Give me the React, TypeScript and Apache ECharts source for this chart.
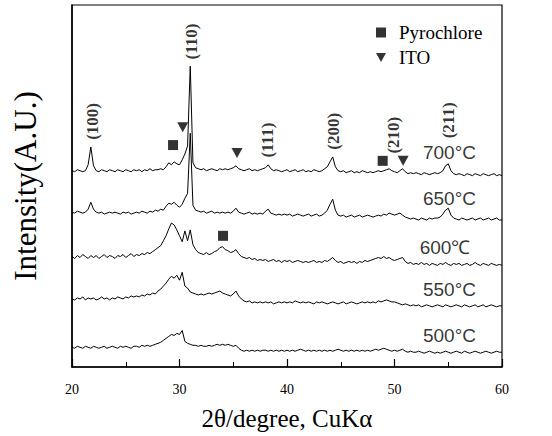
import { useEffect, useRef } from "react";
import * as echarts from "echarts";

// 2θ sampling grid (degrees)
const twoTheta = [
  20, 20.25, 20.5, 20.75, 21, 21.25, 21.5, 21.75,
  22, 22.25, 22.5, 22.75, 23, 23.25, 23.5, 23.75,
  24, 24.25, 24.5, 24.75, 25, 25.25, 25.5, 25.75,
  26, 26.25, 26.5, 26.75, 27, 27.25, 27.5, 27.75,
  28, 28.25, 28.5, 28.75, 29, 29.25, 29.5, 29.75,
  30, 30.25, 30.5, 30.75, 31, 31.25, 31.5, 31.75,
  32, 32.25, 32.5, 32.75, 33, 33.25, 33.5, 33.75,
  34, 34.25, 34.5, 34.75, 35, 35.25, 35.5, 35.75,
  36, 36.25, 36.5, 36.75, 37, 37.25, 37.5, 37.75,
  38, 38.25, 38.5, 38.75, 39, 39.25, 39.5, 39.75,
  40, 40.25, 40.5, 40.75, 41, 41.25, 41.5, 41.75,
  42, 42.25, 42.5, 42.75, 43, 43.25, 43.5, 43.75,
  44, 44.25, 44.5, 44.75, 45, 45.25, 45.5, 45.75,
  46, 46.25, 46.5, 46.75, 47, 47.25, 47.5, 47.75,
  48, 48.25, 48.5, 48.75, 49, 49.25, 49.5, 49.75,
  50, 50.25, 50.5, 50.75, 51, 51.25, 51.5, 51.75,
  52, 52.25, 52.5, 52.75, 53, 53.25, 53.5, 53.75,
  54, 54.25, 54.5, 54.75, 55, 55.25, 55.5, 55.75,
  56, 56.25, 56.5, 56.75, 57, 57.25, 57.5, 57.75,
  58, 58.25, 58.5, 58.75, 59, 59.25, 59.5, 59.75,
  60,
];

// Intensities (arbitrary units, stacked traces)
const i700 = [
  199, 198, 200, 199, 198, 199, 205, 223,
  204, 199, 198, 200, 199, 198, 200, 199,
  198, 200, 199, 198, 200, 199, 198, 200,
  199, 200, 198, 200, 199, 201, 199, 200,
  200, 201, 200, 203, 207, 205, 208, 206,
  205, 210, 216, 224, 305, 207, 202, 201,
  200, 201, 199, 200, 201, 200, 199, 201,
  200, 201, 200, 201, 202, 204, 201, 200,
  199, 200, 201, 199, 200, 199, 200, 201,
  202, 205, 201, 199, 200, 199, 198, 199,
  200, 198, 199, 200, 198, 199, 200, 198,
  199, 198, 200, 199, 198, 199, 201, 203,
  208, 213, 203, 199, 198, 199, 197, 198,
  199, 197, 198, 197, 199, 198, 197, 198,
  197, 198, 199, 198, 199, 200, 201, 199,
  198, 197, 199, 201, 198, 196, 197, 196,
  197, 196, 195, 197, 196, 195, 196, 197,
  196, 197, 199, 204, 206, 199, 196, 195,
  196, 195, 194, 196, 195, 194, 196, 195,
  194, 196, 195, 194, 195, 196, 194, 195,
  194,
];
const i650 = [
  157, 156, 158, 157, 156, 157, 160, 167,
  160, 157, 156, 157, 155, 156, 157, 156,
  157, 156, 155, 157, 156, 157, 155, 156,
  157, 156, 158, 157, 156, 158, 157, 159,
  158, 160, 159, 163, 166, 165, 167, 164,
  162, 165, 171, 176, 237, 164, 159, 158,
  157, 158, 156, 157, 158, 156, 157, 156,
  157, 156, 157, 156, 158, 161, 157, 156,
  155, 156, 157, 155, 156, 155, 156, 155,
  158, 160, 156, 155, 154, 155, 154, 155,
  154, 155, 153, 154, 155, 154, 153, 154,
  155, 153, 154, 155, 153, 154, 156, 159,
  165, 170, 159, 154, 153, 154, 152, 153,
  154, 152, 153, 154, 152, 153, 154, 153,
  152, 153, 154, 153, 155, 154, 156, 155,
  154, 155, 156, 154, 152, 151, 150, 151,
  150, 149, 151, 150, 149, 151, 150, 151,
  151, 152, 155, 159, 161, 154, 151, 150,
  149, 151, 150, 149, 150, 151, 149, 150,
  151, 149, 150, 151, 149, 150, 151, 149,
  149,
];
const i600 = [
  112, 110, 113, 111, 114, 112, 110, 113,
  111, 113, 110, 112, 114, 111, 113, 112,
  110, 113, 112, 114, 111, 113, 115, 112,
  114, 113, 115, 114, 116, 115, 117, 119,
  121, 123, 128, 133, 140, 146, 144, 139,
  133, 127, 138, 128, 139, 124, 119, 116,
  115, 114, 116, 114, 115, 117, 118, 121,
  122, 119, 118, 116, 117, 119, 115, 112,
  111, 110, 111, 109, 110, 108, 109, 108,
  109, 107, 108, 109, 107, 108, 106, 108,
  107, 108, 106, 107, 108, 107, 106, 107,
  106, 107, 108, 106, 107, 106, 108, 107,
  109, 111, 108, 106, 107, 105, 106, 107,
  106, 107, 105, 107, 106, 108, 107, 108,
  109, 110, 111, 110, 112, 110, 111, 109,
  108, 109, 110, 111, 107, 105, 106, 104,
  105, 104, 106, 104, 105, 103, 105, 104,
  103, 105, 104, 106, 104, 103, 105, 104,
  105, 103, 104, 105, 103, 104, 106, 104,
  103, 105, 104, 103, 105, 104, 103, 104,
  103,
];
const i550 = [
  69, 68, 70, 69, 71, 68, 70, 69,
  70, 68, 69, 71, 69, 70, 68, 70,
  69, 71, 70, 69, 71, 70, 72, 71,
  72, 71, 73, 72, 74, 73, 75, 74,
  77, 79, 82, 85, 89, 92, 90, 93,
  88, 96, 82, 80, 76, 75, 74, 73,
  74, 73, 74, 75, 74, 75, 76, 77,
  75, 74, 73, 72, 74, 77, 72, 69,
  67, 66, 67, 65, 66, 65, 66, 65,
  66, 65, 66, 64, 65, 66, 65, 66,
  65, 66, 65, 67, 66, 65, 66, 65,
  66, 65, 64, 66, 65, 66, 65, 64,
  65, 66, 65, 64, 65, 66, 64, 65,
  66, 65, 64, 65, 66, 65, 66, 65,
  66, 65, 67, 66, 67, 68, 67, 66,
  66, 65, 64, 63, 64, 63, 62, 63,
  62, 63, 61, 62, 63, 62, 61, 62,
  63, 62, 61, 63, 62, 61, 62, 63,
  62, 61, 63, 62, 61, 62, 63, 61,
  62, 63, 61, 62, 63, 62, 61, 62,
  62,
];
const i500 = [
  20, 19, 21, 20, 19, 21, 20, 19,
  21, 20, 19, 20, 21, 19, 20, 21,
  20, 19, 21, 20, 21, 20, 19, 21,
  21, 20, 22, 21, 22, 21, 22, 23,
  24, 25, 27, 29, 31, 33, 32, 34,
  33, 37, 26, 24, 23, 22, 22, 21,
  22, 21, 21, 22, 21, 22, 23, 22,
  23, 22, 23, 22, 21, 22, 19, 17,
  16, 17, 16, 17, 16, 17, 16, 17,
  17, 16, 17, 16, 17, 16, 17, 16,
  17, 16, 17, 16, 17, 18, 17, 16,
  17, 16, 17, 16, 17, 16, 17, 16,
  17, 16, 17, 18, 17, 16, 17, 16,
  17, 16, 17, 16, 17, 16, 17, 16,
  17, 18, 17, 18, 19, 18, 17, 16,
  17, 16, 17, 18, 16, 15, 16, 15,
  15, 16, 15, 14, 15, 16, 15, 14,
  15, 14, 15, 16, 15, 14, 15, 16,
  15, 14, 16, 15, 14, 15, 16, 15,
  14, 15, 16, 15, 14, 15, 16, 15,
  15,
];

const traces = [i700, i650, i600, i550, i500];
const temperatures = ["700°C", "650°C", "600℃", "550°C", "500°C"];
const tempLabelX = [52.6, 52.6, 52.3, 52.6, 52.6];
const tempLabelY = [217, 171, 121, 79, 31.5];

const millerNames = ["(100)", "(110)", "(111)", "(200)", "(210)", "(211)"];
const millerX = [21.95, 31.1, 38.2, 44.3, 49.9, 55.0];
const millerY = [249, 330, 230, 239, 235, 250];

const pyrochloreX = [29.4, 48.9, 34.05];
const pyrochloreY = [225, 209, 133];
const itoX = [30.3, 35.35, 50.8];
const itoY = [243, 217, 209];

const SERIF = "'Liberation Serif', 'Times New Roman', serif";
const SANS = "'Liberation Sans', Arial, sans-serif";
const DOWN_TRIANGLE = "path://M0,0L10,0L5,9Z";

export default function App() {
  const ref = useRef<HTMLDivElement>(null);
  useEffect(() => {
    if (!ref.current) return;
    const chart = echarts.init(ref.current, undefined, { renderer: "svg" });
    const lineSeries = traces.map((t, k) => ({
      type: "line",
      name: temperatures[k],
      data: twoTheta.map((x, i) => [x, t[i]]),
      showSymbol: false,
      symbol: "none",
      lineStyle: { color: "#000", width: 1 },
      z: 2,
    }));
    chart.setOption({
      animation: false,
      backgroundColor: "#fff",
      grid: {
        left: 72,
        right: 50,
        top: 5,
        bottom: 64,
        show: true,
        borderColor: "#000",
        borderWidth: 1.2,
      },
      legend: {
        data: [
          { name: "Pyrochlore", icon: "rect" },
          { name: "ITO", icon: DOWN_TRIANGLE },
        ],
        orient: "vertical",
        left: 376,
        top: 23,
        padding: 0,
        itemWidth: 10,
        itemHeight: 10,
        itemGap: 6,
        textStyle: { fontFamily: SERIF, fontSize: 19, color: "#000", padding: [0, 0, 0, 8] },
        selectedMode: false,
      },
      xAxis: {
        type: "value",
        min: 20,
        max: 60,
        interval: 10,
        name: "2θ/degree, CuKα",
        nameLocation: "middle",
        nameGap: 39,
        nameTextStyle: { fontFamily: SERIF, fontSize: 25, color: "#000" },
        axisLine: { show: true, lineStyle: { color: "#000", width: 1.5 } },
        axisTick: { show: true, inside: true, length: 8, lineStyle: { color: "#000", width: 1.2 } },
        minorTick: { show: true, splitNumber: 2, length: 5, lineStyle: { color: "#000", width: 1 } },
        axisLabel: { fontFamily: SERIF, fontSize: 14, color: "#000", margin: 15 },
        splitLine: { show: false },
      },
      yAxis: {
        type: "value",
        min: 0,
        max: 367,
        name: "Intensity(A.U.)",
        nameLocation: "middle",
        nameGap: 31,
        nameTextStyle: { fontFamily: SERIF, fontSize: 31, color: "#000" },
        axisLine: { show: true, lineStyle: { color: "#000", width: 1.5 } },
        axisTick: { show: false },
        axisLabel: { show: false },
        splitLine: { show: false },
      },
      series: [
        ...lineSeries,
        {
          type: "scatter",
          name: "Pyrochlore",
          symbol: "rect",
          symbolSize: 10,
          itemStyle: { color: "#000" },
          data: pyrochloreX.map((x, i) => [x, pyrochloreY[i]]),
          z: 3,
        },
        {
          type: "scatter",
          name: "ITO",
          symbol: DOWN_TRIANGLE,
          symbolSize: [11, 10],
          itemStyle: { color: "#000" },
          data: itoX.map((x, i) => [x, itoY[i]]),
          z: 3,
        },
        {
          type: "scatter",
          name: "hkl",
          symbol: "circle",
          symbolSize: 1,
          itemStyle: { color: "rgba(0,0,0,0)" },
          label: {
            show: true,
            position: "inside",
            rotate: 90,
            formatter: (p: any) => p.name,
            fontFamily: SERIF,
            fontWeight: "bold",
            fontSize: 17,
            color: "#000",
          },
          data: millerNames.map((n, i) => ({ name: n, value: [millerX[i], millerY[i]] })),
          z: 4,
        },
        {
          type: "scatter",
          name: "temps",
          symbol: "circle",
          symbolSize: 1,
          itemStyle: { color: "rgba(0,0,0,0)" },
          label: {
            show: true,
            position: "right",
            distance: 0,
            formatter: (p: any) => p.name,
            fontFamily: SANS,
            fontSize: 19,
            color: "#000",
          },
          data: temperatures.map((n, i) => ({ name: n, value: [tempLabelX[i], tempLabelY[i]] })),
          z: 4,
        },
      ],
    });
    return () => chart.dispose();
  }, []);
  return (
    <div
      ref={ref}
      style={{ position: "absolute", left: 0, top: 0, width: 552, height: 436, background: "#fff" }}
    />
  );
}
